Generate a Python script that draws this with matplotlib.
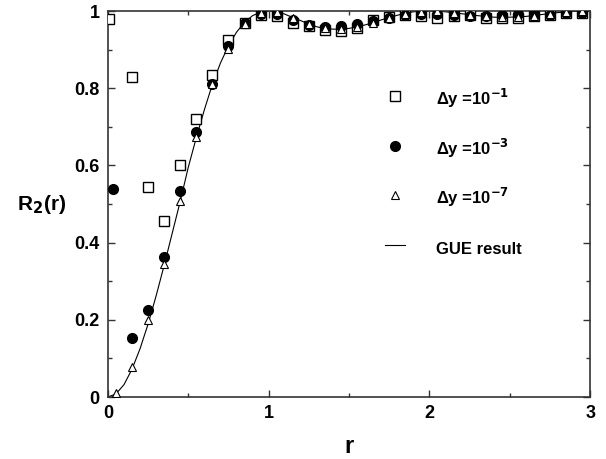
import numpy as np
import matplotlib
matplotlib.use("Agg")
import matplotlib.pyplot as plt
from matplotlib.ticker import MultipleLocator

plt.rcParams["font.family"] = ["Liberation Sans", "DejaVu Sans"]
plt.rcParams["mathtext.default"] = "bf"

# ── data ──────────────────────────────────────────────────────────────
r_sq = [0.01, 0.15, 0.25, 0.35, 0.45, 0.55, 0.65, 0.75, 0.85, 0.95,
        1.05, 1.15, 1.25, 1.35, 1.45, 1.55, 1.65, 1.75, 1.85, 1.95,
        2.05, 2.15, 2.25, 2.35, 2.45, 2.55, 2.65, 2.75, 2.85, 2.95]
R_sq = [0.979, 0.830, 0.543, 0.455, 0.601, 0.720, 0.834, 0.925, 0.968, 0.990,
        0.988, 0.970, 0.962, 0.952, 0.948, 0.955, 0.978, 0.985, 0.990, 0.988,
        0.981, 0.986, 0.990, 0.983, 0.981, 0.981, 0.988, 0.990, 0.995, 0.994]

r_ci = [0.03, 0.15, 0.25, 0.35, 0.45, 0.55, 0.65, 0.75, 0.85, 0.95,
        1.05, 1.15, 1.25, 1.35, 1.45, 1.55, 1.65, 1.75, 1.85, 1.95,
        2.05, 2.15, 2.25, 2.35, 2.45, 2.55, 2.65, 2.75, 2.85, 2.95]
R_ci = [0.538, 0.152, 0.225, 0.363, 0.534, 0.686, 0.812, 0.909, 0.968, 0.992,
        0.992, 0.977, 0.964, 0.958, 0.962, 0.966, 0.975, 0.983, 0.990, 0.991,
        0.992, 0.990, 0.988, 0.988, 0.990, 0.992, 0.990, 0.990, 0.995, 0.995]

r_tr = [0.05, 0.15, 0.25, 0.35, 0.45, 0.55, 0.65, 0.75, 0.85, 0.95,
        1.05, 1.15, 1.25, 1.35, 1.45, 1.55, 1.65, 1.75, 1.85, 1.95,
        2.05, 2.15, 2.25, 2.35, 2.45, 2.55, 2.65, 2.75, 2.85, 2.95]
R_tr = [0.010, 0.077, 0.200, 0.345, 0.509, 0.673, 0.810, 0.902, 0.966, 0.996,
        0.997, 0.981, 0.966, 0.956, 0.953, 0.958, 0.970, 0.982, 0.993, 0.998,
        0.999, 0.995, 0.990, 0.986, 0.984, 0.985, 0.988, 0.993, 0.997, 0.999]

r_gue = [0.0, 0.05, 0.1, 0.15, 0.2, 0.25, 0.3, 0.35, 0.4, 0.45, 0.5,
         0.55, 0.6, 0.65, 0.7, 0.75, 0.8, 0.85, 0.9, 0.95, 1.0,
         1.05, 1.1, 1.15, 1.2, 1.25, 1.3, 1.35, 1.4, 1.45, 1.5,
         1.55, 1.6, 1.65, 1.7, 1.75, 1.8, 1.85, 1.9, 1.95, 2.0,
         2.1, 2.2, 2.3, 2.4, 2.5, 2.6, 2.7, 2.8, 2.9, 3.0]
R_gue = [0.0, 0.008, 0.032, 0.072, 0.125, 0.189, 0.262, 0.341, 0.424, 0.507, 0.595,
         0.672, 0.744, 0.810, 0.865, 0.910, 0.945, 0.971, 0.988, 0.997, 1.0,
         0.998, 0.992, 0.983, 0.975, 0.966, 0.959, 0.955, 0.953, 0.953, 0.955,
         0.959, 0.964, 0.970, 0.977, 0.983, 0.989, 0.994, 0.998, 0.9995, 1.0,
         0.998, 0.993, 0.988, 0.984, 0.984, 0.986, 0.991, 0.996, 0.999, 1.0]

labels = ["Δy =10$^{-1}$", "Δy =10$^{-3}$", "Δy =10$^{-7}$", "GUE result"]

# ── figure ────────────────────────────────────────────────────────────
fig = plt.figure(figsize=(6.06, 4.59), dpi=100)
ax = fig.add_axes([0.178, 0.135, 0.796, 0.841])

ax.plot(r_sq, R_sq, "s", ms=7, mfc="white", mec="black", mew=1.0,
        label=labels[0], zorder=3)
ax.plot(r_ci, R_ci, "o", ms=7, mfc="black", mec="black",
        label=labels[1], zorder=4)
ax.plot(r_tr, R_tr, "^", ms=6, mfc="white", mec="black", mew=0.8,
        label=labels[2], zorder=5)
ax.plot(r_gue, R_gue, "-", color="black", lw=0.8, label=labels[3], zorder=2)

ax.set_xlim(0, 3)
ax.set_ylim(0, 1)
ax.xaxis.set_major_locator(MultipleLocator(1))
ax.xaxis.set_minor_locator(MultipleLocator(0.5))
ax.yaxis.set_major_locator(MultipleLocator(0.2))
ax.yaxis.set_minor_locator(MultipleLocator(0.1))
ax.yaxis.set_major_formatter(plt.FuncFormatter(lambda v, p: f"{v:g}"))

ax.tick_params(which="both", direction="in", top=True, right=True,
               labelsize=13, width=1.0, color="#333333")
ax.tick_params(which="major", length=5, pad=6)
ax.tick_params(which="minor", length=3)
for lbl in ax.get_xticklabels() + ax.get_yticklabels():
    lbl.set_fontweight("bold")
for sp in ax.spines.values():
    sp.set_linewidth(1.2)
    sp.set_color("#333333")

ax.set_xlabel("r", fontsize=17, fontweight="bold", labelpad=9)
ax.set_ylabel("R$_2$(r)", fontsize=15, fontweight="bold", rotation=0)
ax.yaxis.set_label_coords(-0.137, 0.47)

leg = ax.legend(loc="upper left", bbox_to_anchor=(0.635, 0.81),
                bbox_transform=fig.transFigure, frameon=False,
                prop={"size": 12, "weight": "bold"}, labelspacing=1.42,
                handlelength=1.2, handleheight=2.0, handletextpad=1.9,
                borderpad=0, borderaxespad=0)

fig.savefig("out.png", dpi=100)
